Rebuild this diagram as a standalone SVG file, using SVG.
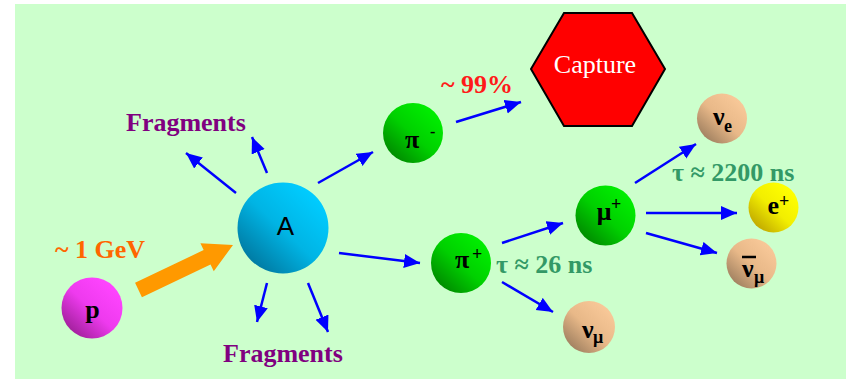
<svg xmlns="http://www.w3.org/2000/svg" width="846" height="383" viewBox="0 0 846 383">
<style>
.lbl{font-family:"Liberation Serif","Times New Roman",serif;font-weight:bold;fill:#000}
.big{font-size:26px}
.sm{font-size:18px}
.tx{font-family:"Liberation Serif","Times New Roman",serif;font-weight:bold;font-size:26px}
.frag{fill:#800080}
.tau{fill:#339966}
.con{stroke:#0000FF;stroke-width:2.5;fill:none;marker-end:url(#ah)}
</style>
<defs>
<marker id="ah" markerUnits="userSpaceOnUse" markerWidth="17" markerHeight="15" refX="16" refY="7" orient="auto">
<path d="M0,0 L16,7 L0,14 z" fill="#0000FF"/>
</marker>
<linearGradient id="gPink" x1="0.85" y1="0.15" x2="0.15" y2="0.9"><stop offset="0" stop-color="#FF44FF"/><stop offset="0.5" stop-color="#EE3AEE"/><stop offset="1" stop-color="#A0209A"/></linearGradient>
<linearGradient id="gBlue" x1="0.85" y1="0.15" x2="0.15" y2="0.9"><stop offset="0" stop-color="#00CCFF"/><stop offset="0.5" stop-color="#00B4E4"/><stop offset="1" stop-color="#0078A0"/></linearGradient>
<linearGradient id="gGreen" x1="0.85" y1="0.15" x2="0.15" y2="0.9"><stop offset="0" stop-color="#00EE00"/><stop offset="0.5" stop-color="#00D000"/><stop offset="1" stop-color="#008A00"/></linearGradient>
<linearGradient id="gPeach" x1="0.85" y1="0.15" x2="0.15" y2="0.9"><stop offset="0" stop-color="#F8C898"/><stop offset="0.5" stop-color="#E8B888"/><stop offset="1" stop-color="#A08060"/></linearGradient>
<linearGradient id="gYellow" x1="0.85" y1="0.15" x2="0.15" y2="0.9"><stop offset="0" stop-color="#FFFF00"/><stop offset="0.5" stop-color="#F2EE00"/><stop offset="1" stop-color="#C0A800"/></linearGradient>
</defs>
<rect x="0" y="0" width="846" height="383" fill="#FFFFFF"/>
<rect x="15" y="4" width="831" height="375" fill="#CCFFCC"/>

<g id="connectors">
<line class="con" x1="456" y1="122" x2="521" y2="102"/>
<line class="con" x1="318" y1="183" x2="373" y2="152"/>
<line class="con" x1="236" y1="193" x2="186" y2="153"/>
<line class="con" x1="267" y1="173" x2="252" y2="137"/>
<line class="con" x1="267" y1="283" x2="257" y2="322"/>
<line class="con" x1="308" y1="283" x2="328" y2="332"/>
<line class="con" x1="339" y1="253" x2="420" y2="263"/>
<line class="con" x1="502" y1="243" x2="563" y2="223"/>
<line class="con" x1="502" y1="282" x2="553" y2="312"/>
<line class="con" x1="635" y1="183" x2="696" y2="144"/>
<line class="con" x1="646" y1="213" x2="737" y2="213"/>
<line class="con" x1="646" y1="233" x2="717" y2="253"/>
<g transform="translate(138.5,290) rotate(-25.5)">
<polygon points="0,-8 76,-8 76,-15.5 104.7,0 76,15.5 76,8 0,8" fill="#FF9900"/>
</g>
</g>

<g id="labels">
<text class="tx" x="441" y="93" fill="#FF1A1A">~ 99%</text>
<text class="tx" x="55" y="258" fill="#FF6600">~ 1 GeV</text>
<text class="tx frag" x="126" y="131">Fragments</text>
<text class="tx frag" x="223" y="362">Fragments</text>
<text class="tx tau" x="496" y="273">τ ≈ 26 ns</text>
<text class="tx tau" x="672" y="181">τ ≈ 2200 ns</text>
</g>

<g id="node-p">
<circle cx="92" cy="308" r="30.5" fill="url(#gPink)"/>
<text class="lbl big" x="92.5" y="318" text-anchor="middle">p</text>
</g>
<g id="node-A">
<circle cx="283" cy="228" r="45.5" fill="url(#gBlue)"/>
<text x="285.5" y="235" text-anchor="middle" font-family="'Liberation Sans',Arial,sans-serif" font-size="26" fill="#000">A</text>
</g>
<g id="node-capture">
<polygon points="531,69 564,13 632,13 665,69 632,126 564,126" fill="#FF0000" stroke="#000" stroke-width="2"/>
<text x="595" y="73" text-anchor="middle" font-family="'Liberation Serif','Times New Roman',serif" font-size="26" fill="#FFFFFF">Capture</text>
</g>
<g id="node-pi-minus">
<circle cx="413" cy="133" r="30" fill="url(#gGreen)"/>
<text class="lbl big" x="412" y="148" text-anchor="middle">π</text>
<text class="lbl" font-size="16" x="430" y="137">-</text>
</g>
<g id="node-pi-plus">
<circle cx="461" cy="263" r="30" fill="url(#gGreen)"/>
<text class="lbl big" x="462" y="268" text-anchor="middle">π</text>
<text class="lbl sm" x="472" y="260">+</text>
</g>
<g id="node-mu-plus">
<circle cx="605.5" cy="215.5" r="30" fill="url(#gGreen)"/>
<text class="lbl big" x="604" y="220" text-anchor="middle">μ</text>
<text class="lbl sm" x="611" y="210">+</text>
</g>
<g id="node-nu-mu">
<circle cx="589" cy="327" r="26" fill="url(#gPeach)"/>
<text class="lbl big" x="582" y="338">ν</text>
<text class="lbl sm" x="593" y="343">μ</text>
</g>
<g id="node-nu-e">
<circle cx="722" cy="118.5" r="25" fill="url(#gPeach)"/>
<text class="lbl big" x="713" y="125">ν</text>
<text class="lbl sm" x="724" y="132">e</text>
</g>
<g id="node-e-plus">
<circle cx="773.5" cy="207.5" r="25" fill="url(#gYellow)"/>
<text class="lbl big" x="767.5" y="214">e</text>
<text class="lbl sm" x="779" y="207">+</text>
</g>
<g id="node-antinu-mu">
<circle cx="751.5" cy="263.5" r="25" fill="url(#gPeach)"/>
<line x1="742" y1="257" x2="756" y2="257" stroke="#000" stroke-width="2.5"/>
<text class="lbl big" x="742" y="277">ν</text>
<text class="lbl sm" x="754" y="283">μ</text>
</g>
</svg>
